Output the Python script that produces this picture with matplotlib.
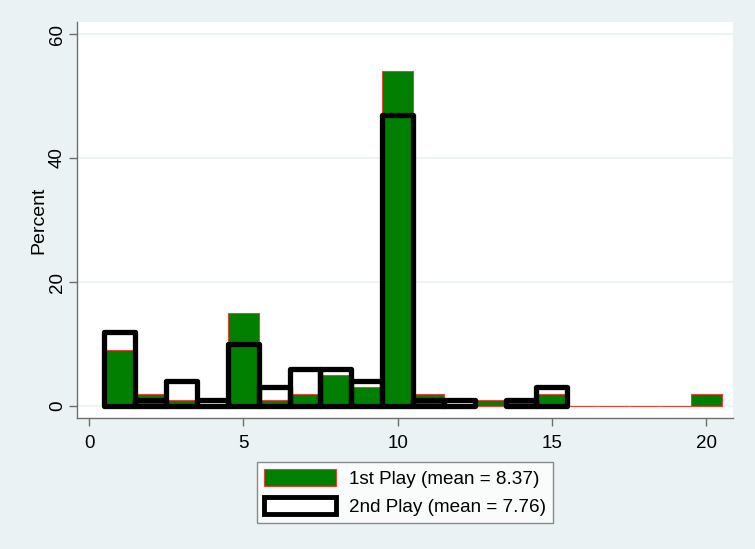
import numpy as np
import matplotlib.pyplot as plt
from matplotlib.patches import Patch

plt.rcParams['font.family'] = ['Liberation Sans', 'DejaVu Sans']

# bins centred on integer values (width 1)
values = list(range(1, 21))
first_play = [9, 2, 1, 0, 15, 1, 2, 5, 3, 54, 2, 0, 1, 1, 2, 0, 0, 0, 0, 2]
second_play = [12, 1, 4, 1, 10, 3, 6, 6, 4, 47, 1, 1, 0, 1, 3, 0, 0, 0, 0, 0]
labels = ['1st Play (mean = 8.37)', '2nd Play (mean = 7.76)']

bg = '#EAF2F3'
green = '#007F00'
edge_red = '#E8403A'

fig = plt.figure(figsize=(7.55, 5.49), dpi=100, facecolor=bg)
ax = fig.add_axes([0.102, 0.2386, 0.869, 0.7213])
ax.set_facecolor('white')

ax.bar(values, first_play, width=1.0, color=green, edgecolor=edge_red,
       linewidth=0.8, zorder=2)
# only nonzero outline bars are visible
sec_x = [v for v, h in zip(values, second_play) if h > 0]
sec_h = [h for h in second_play if h > 0]
ax.bar(sec_x, sec_h, width=1.0, fill=False, edgecolor='black',
       linewidth=3.8, joinstyle='round', zorder=3)

ax.set_xlim(-0.39, 20.875)
ax.set_ylim(-1.94, 61.94)
ax.set_xticks([0, 5, 10, 15, 20])
ax.set_yticks([0, 20, 40, 60])
ax.grid(axis='y', color='#EAF2F3', linewidth=1.2, zorder=0)
ax.set_axisbelow(True)

for s in ['top', 'right']:
    ax.spines[s].set_visible(False)
for s in ['left', 'bottom']:
    ax.spines[s].set_color('#6E6E6E')
    ax.spines[s].set_linewidth(1.0)

ax.tick_params(axis='both', colors='#6E6E6E', length=6, width=1.0,
               labelsize=13.5, labelcolor='black')
ax.tick_params(axis='x', pad=6)
ax.tick_params(axis='y', pad=2)
plt.setp(ax.get_yticklabels(), rotation=90, va='center')
ax.set_ylabel('Percent', fontsize=14, labelpad=1)

handles = [Patch(facecolor=green, edgecolor=edge_red, linewidth=0.8),
           Patch(facecolor='white', edgecolor='black', linewidth=3.5)]
leg = fig.legend(handles, labels, loc='center', bbox_to_anchor=(0.5364, 0.103),
                 frameon=True, fancybox=False, fontsize=13.6, handlelength=3.8,
                 handleheight=1.0, handletextpad=0.65, borderpad=0.4,
                 labelspacing=0.45)
leg.get_frame().set_edgecolor('#6E6E6E')
leg.get_frame().set_linewidth(1.0)

fig.savefig('out.png', dpi=100, facecolor=bg)
